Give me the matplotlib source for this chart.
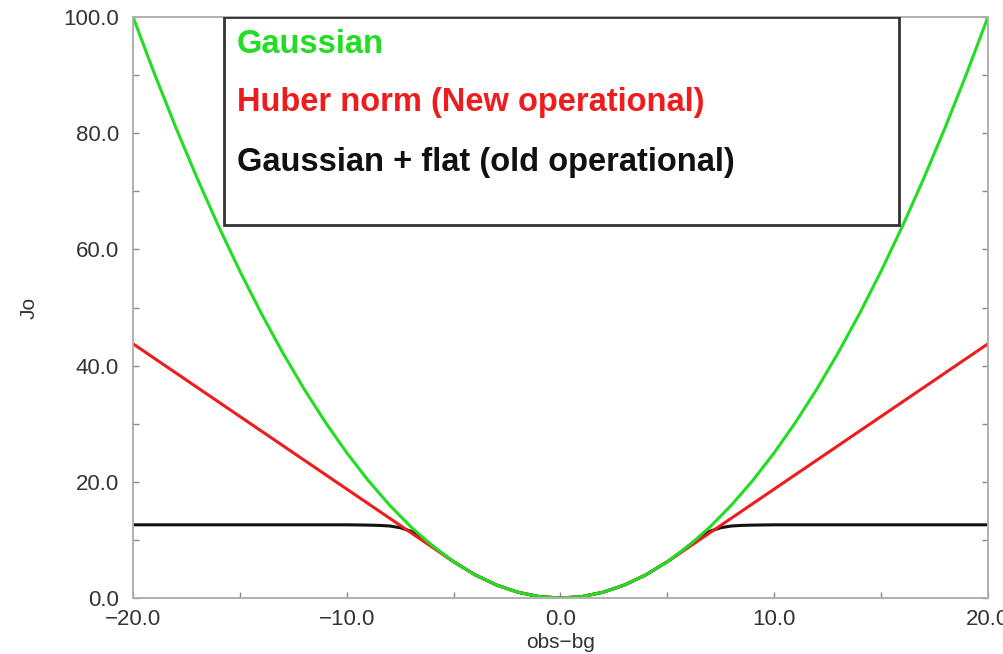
import numpy as np
import matplotlib.pyplot as plt
from matplotlib.patches import Rectangle

plt.rcParams['font.family'] = ['Liberation Sans', 'DejaVu Sans']

# departures obs-bg (integer steps)
x = list(range(-20, 21))

# Gaussian Jo
jo_gauss = [100.0, 90.25, 81.0, 72.25, 64.0, 56.25, 49.0, 42.25, 36.0, 30.25, 25.0,
            20.25, 16.0, 12.25, 9.0, 6.25, 4.0, 2.25, 1.0, 0.25, 0.0,
            0.25, 1.0, 2.25, 4.0, 6.25, 9.0, 12.25, 16.0, 20.25, 25.0,
            30.25, 36.0, 42.25, 49.0, 56.25, 64.0, 72.25, 81.0, 90.25, 100.0]

# Huber norm Jo
jo_huber = [43.75, 41.25, 38.75, 36.25, 33.75, 31.25, 28.75, 26.25, 23.75, 21.25, 18.75,
            16.25, 13.75, 11.25, 8.75, 6.25, 4.0, 2.25, 1.0, 0.25, 0.0,
            0.25, 1.0, 2.25, 4.0, 6.25, 8.75, 11.25, 13.75, 16.25, 18.75,
            21.25, 23.75, 26.25, 28.75, 31.25, 33.75, 36.25, 38.75, 41.25, 43.75]

# Gaussian + flat Jo (finer steps where it bends over)
x_flat = [-20, -15, -10, -9, -8.5, -8, -7.5, -7, -6.5, -6, -5.5, -5, -4, -3, -2, -1, 0,
          1, 2, 3, 4, 5, 5.5, 6, 6.5, 7, 7.5, 8, 8.5, 9, 10, 15, 20]
jo_flat = [12.6, 12.6, 12.6, 12.55, 12.5, 12.4, 12.1, 11.5, 10.4, 9.0, 7.55, 6.25, 4.0, 2.25, 1.0, 0.25, 0.0,
           0.25, 1.0, 2.25, 4.0, 6.25, 7.55, 9.0, 10.4, 11.5, 12.1, 12.4, 12.5, 12.55, 12.6, 12.6, 12.6]

labels = ['Gaussian', 'Huber norm (New operational)', 'Gaussian + flat (old operational)']
colors = ['#22dd22', '#ee1c1c', '#111111']

fig = plt.figure(figsize=(10.04, 6.54), dpi=100)
ax = fig.add_axes([0.1325, 0.0856, 0.8515, 0.8884])

ax.plot(x_flat, jo_flat, color=colors[2], lw=2.2)
ax.plot(x, jo_huber, color=colors[1], lw=2.2)
ax.plot(x, jo_gauss, color=colors[0], lw=2.2)

ax.set_xlim(-20, 20)
ax.set_ylim(0, 100)
ax.set_xticks([-20, -10, 0, 10, 20])
ax.set_xticks([-15, -5, 5, 15], minor=True)
ax.set_yticks(np.arange(0, 101, 20))
ax.set_yticks(np.arange(10, 100, 20), minor=True)
ax.xaxis.set_major_formatter(lambda v, p: f'{v:.1f}'.replace('-', '\u2212'))
ax.yaxis.set_major_formatter(lambda v, p: f'{v:.1f}')
ax.tick_params(which='both', direction='in', length=4, width=1, color='#888888',
               labelsize=16, labelcolor='#333333', right=True)
ax.tick_params(axis='y', pad=10)
ax.tick_params(axis='x', pad=8)
for s in ax.spines.values():
    s.set_color('#b0b0b0')
    s.set_linewidth(1.4)

ax.set_ylabel('Jo', fontsize=15, color='#333333', labelpad=18)
ax.set_xlabel('obs\u2212bg', fontsize=15, color='#333333', labelpad=2)

# key box with coloured labels
ax.add_patch(Rectangle((0.1064, 0.642), 0.7895, 0.358, transform=ax.transAxes,
                       fill=False, edgecolor='#333333', lw=2, zorder=5))
for lab, c, yy in zip(labels, colors, [0.952, 0.852, 0.750]):
    ax.text(0.1216, yy, lab, color=c, fontsize=23.5, fontweight='bold',
            transform=ax.transAxes, va='center', ha='left', zorder=6)

fig.savefig('out.png', dpi=100)
